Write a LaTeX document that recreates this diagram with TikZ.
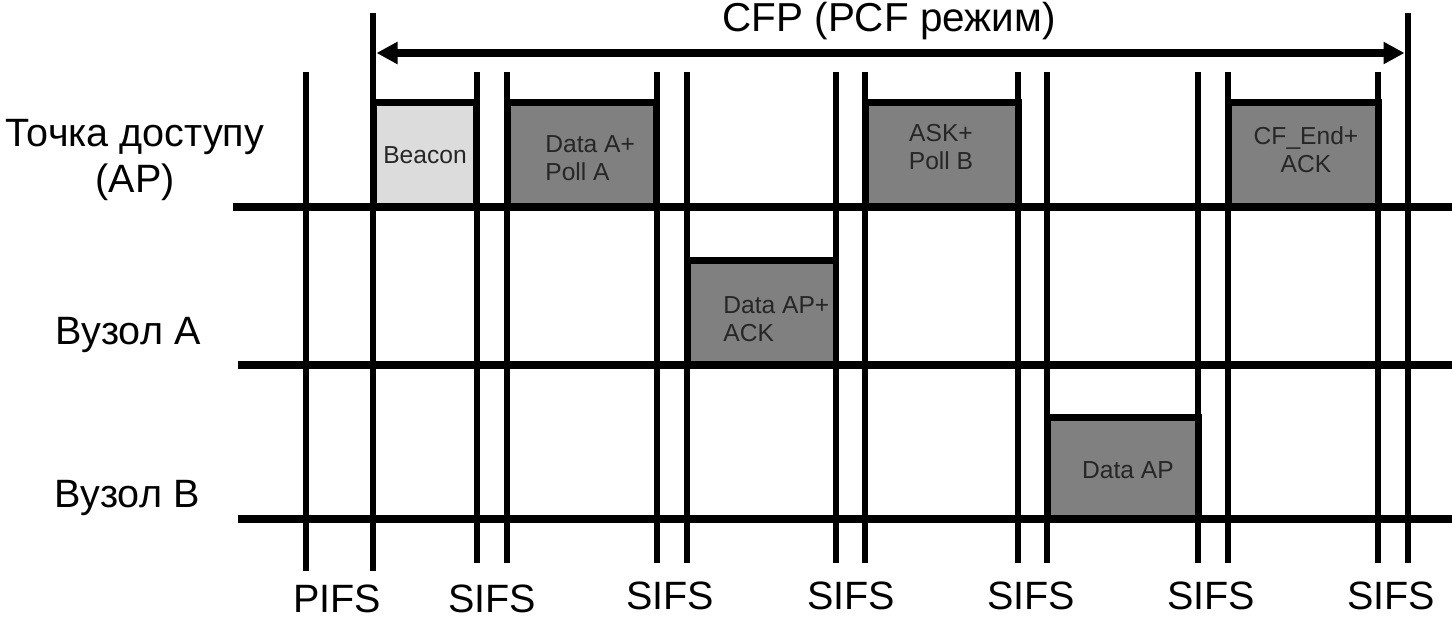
\documentclass[tikz,border=0pt]{standalone}
\usepackage{fontspec}
\setmainfont{Liberation Sans}
\usetikzlibrary{arrows.meta}
\definecolor{beacongrey}{RGB}{220,220,220}
\definecolor{framegrey}{RGB}{128,128,128}
\tikzstyle{timeline} = [line width=0.16cm]
\tikzstyle{marker} = [line width=0.13cm]
\tikzstyle{lightframe} = [rectangle, draw, line width=0.14cm, fill=beacongrey, inner sep=0pt]
\tikzstyle{darkframe} = [rectangle, draw, line width=0.14cm, fill=framegrey, inner sep=0pt]
\tikzstyle{frametext} = [inner sep=0pt, text=black!85, font=\fontsize{14}{16}\selectfont]
\tikzstyle{biglabel} = [inner sep=0pt, font=\fontsize{22.5}{26}\selectfont]
\tikzstyle{arrow} = [line width=0.15cm, {Triangle[length=0.42cm,width=0.42cm]}-{Triangle[length=0.42cm,width=0.42cm]}]

\begin{document}
\begin{tikzpicture}[x=0.02cm, y=-0.02cm]
\useasboundingbox (0,0) rectangle (1452,619);

% frames
\node [lightframe, minimum width=2.08cm, minimum height=2.1cm] at (425,154.5) (beacon) {};
\node [darkframe, minimum width=3.0cm, minimum height=2.1cm] at (582,154.5) (dataa) {};
\node [darkframe, minimum width=2.98cm, minimum height=2.1cm] at (761.5,312.5) (dataap) {};
\node [darkframe, minimum width=3.06cm, minimum height=2.1cm] at (941.5,154.5) (askb) {};
\node [darkframe, minimum width=3.02cm, minimum height=2.04cm] at (1122.5,468) (datab) {};
\node [darkframe, minimum width=3.0cm, minimum height=2.1cm] at (1303,154.5) (cfend) {};

% frame texts
\node [frametext] at (425,155) (beacontext) {Beacon};
\node [frametext, align=left, anchor=west] at (545,158.5) (dataatext) {Data A+\\Poll A};
\node [frametext, align=left, anchor=west] at (723,319) (dataaptext) {Data AP+\\ACK};
\node [frametext, align=center] at (941,147) (askbtext) {ASK+\\Poll B};
\node [frametext, align=center] at (1306,150) (cfendtext) {CF\_End+\\ACK};
\node [frametext] at (1128,470) (databtext) {Data AP};

% time lines
\draw [timeline] (233,207) -- (1452,207);
\draw [timeline] (238,365) -- (1452,365);
\draw [timeline] (238,519) -- (1452,519);

% markers
\draw [marker] (306,72) -- (306,571);
\draw [marker] (373,13) -- (373,571);
\draw [marker] (477,72) -- (477,563);
\draw [marker] (507,72) -- (507,563);
\draw [marker] (657,72) -- (657,563);
\draw [marker] (687,72) -- (687,563);
\draw [marker] (836,72) -- (836,563);
\draw [marker] (865,72) -- (865,563);
\draw [marker] (1018,72) -- (1018,563);
\draw [marker] (1047,72) -- (1047,563);
\draw [marker] (1198,72) -- (1198,563);
\draw [marker] (1228,72) -- (1228,563);
\draw [marker] (1378,72) -- (1378,563);
\draw [marker] (1408,13) -- (1408,563);

% CFP
\coordinate (cfpstart) at (376.5,53);
\coordinate (cfpend) at (1404.5,53);
\draw [arrow] (cfpstart) -- (cfpend);
\node [biglabel, font=\fontsize{23}{27}\selectfont] at (889,21) (cfp) {CFP (PCF режим)};

% stations
\node [biglabel, align=center] at (135,160) (ap) {Точка доступу\\(AP)};
\node [biglabel] at (128,335) (nodea) {Вузол A};
\node [biglabel] at (127,498) (nodeb) {Вузол B};

% spaces
\node [biglabel] at (337,599) (pifs) {PIFS};
\node [biglabel] at (492,599) (sifsa) {SIFS};
\node [biglabel] at (670,596) (sifsb) {SIFS};
\node [biglabel] at (851,596) (sifsc) {SIFS};
\node [biglabel] at (1031,596) (sifsd) {SIFS};
\node [biglabel] at (1211,596) (sifse) {SIFS};
\node [biglabel] at (1391,596) (sifsf) {SIFS};
\end{tikzpicture}
\end{document}
